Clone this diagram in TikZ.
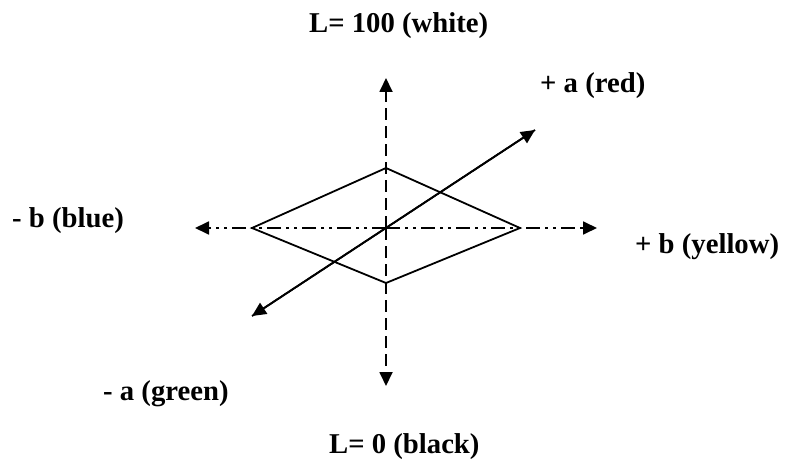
\documentclass[tikz,border=0pt]{standalone}
\usepackage{fontspec}
\setmainfont{Liberation Serif}
\usetikzlibrary{arrows.meta}
\begin{document}
\begin{tikzpicture}
[
x = 1pt, y = -1pt,
axis/.style = {line width=1.8pt, -{Triangle[length=14pt,width=13pt]}},
lab/.style = {font=\fontsize{28.7}{34}\selectfont\bfseries, inner sep=0pt, anchor=base west}
]
\useasboundingbox (0,0) rectangle (786,462);
\coordinate (O) at (386,228);
\coordinate (Ltop) at (386,78);
\coordinate (Lbot) at (386,386);
\coordinate (bneg) at (195,228);
\coordinate (bpos) at (597,228);
\coordinate (apos) at (535,130);
\coordinate (aneg) at (252,316);
\coordinate (dl) at (252,228);
\coordinate (dr) at (520,228);
\coordinate (dt) at (386,168);
\coordinate (db) at (386,283);
% diamond
\draw [line width=1.8pt] (dl) -- (dt) -- (dr) -- (db) -- cycle;
% axes
\draw [axis, dash pattern=on 12pt off 6pt] (O) -- (Ltop);
\draw [axis, dash pattern=on 12pt off 6pt] (O) -- (Lbot);
\draw [axis, dash pattern=on 14pt off 5pt on 3pt off 5pt on 3pt off 5pt] (O) -- (bneg);
\draw [axis, dash pattern=on 14pt off 5pt on 3pt off 5pt on 3pt off 5pt] (O) -- (bpos);
\draw [axis] (aneg) -- (apos);
\draw [axis] (apos) -- (aneg);
% labels
\node [lab] (white) at (309,33) {L= 100 (white)};
\node [lab] (black) at (329,453) {L= 0 (black)};
\node [lab] (red) at (540,93) {+ a (red)};
\node [lab] (green) at (103,400) {- a (green)};
\node [lab] (blue) at (12,228) {- b (blue)};
\node [lab] (yellow) at (635,253) {+ b (yellow)};
\end{tikzpicture}
\end{document}
